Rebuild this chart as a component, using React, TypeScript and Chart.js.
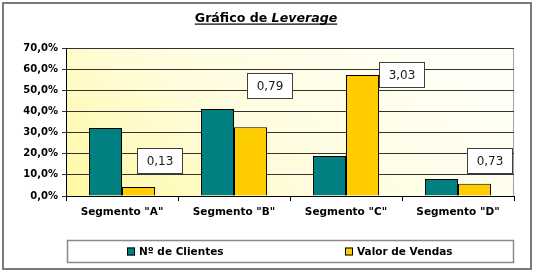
import React, { useEffect, useRef } from "react";
import { Chart, registerables } from "chart.js";

Chart.register(...registerables);

const categories = ['Segmento "A"', 'Segmento "B"', 'Segmento "C"', 'Segmento "D"'];
const clientes = [32.2, 41.2, 18.9, 8.0];
const vendas = [4.2, 32.5, 57.2, 5.8];
const ratioLabels = ["0,13", "0,79", "3,03", "0,73"];
const yTicks = [0, 10, 20, 30, 40, 50, 60, 70];
const seriesNames = ["Nº de Clientes", "Valor de Vendas"];

const FONT = "'DejaVu Sans', Verdana, sans-serif";

const decorPlugin = {
  id: "decor",
  beforeDraw(chart: any) {
    const { ctx, chartArea: a } = chart;
    ctx.save();
    ctx.fillStyle = "#ffffff";
    ctx.fillRect(0, 0, chart.width, chart.height);
    const g = ctx.createLinearGradient(a.left, a.bottom, a.left + 220, a.top - 120);
    g.addColorStop(0, "#fff9a2");
    g.addColorStop(0.45, "#fffcdc");
    g.addColorStop(1, "#fffff6");
    ctx.fillStyle = g;
    ctx.fillRect(a.left, a.top, a.right - a.left, a.bottom - a.top);
    ctx.strokeStyle = "#a0a0a0";
    ctx.lineWidth = 1;
    ctx.strokeRect(a.left + 0.5, a.top + 0.5, a.right - a.left - 1, a.bottom - a.top);
    ctx.restore();
  },
  afterDraw(chart: any, _args: any, opts: any) {
    const { ctx, chartArea: a } = chart;
    const xs = chart.scales.x;
    const ys = chart.scales.y;
    ctx.save();
    // outer border
    ctx.strokeStyle = "#7a7a7a";
    ctx.lineWidth = 2;
    ctx.strokeRect(3, 3, chart.width - 6, chart.height - 5);

    // title
    ctx.fillStyle = "#000";
    ctx.textBaseline = "alphabetic";
    const fs = 12.6;
    const p1 = "Gráfico de ";
    ctx.font = `bold ${fs}px ${FONT}`;
    const w1 = ctx.measureText(p1).width;
    ctx.font = `italic bold ${fs}px ${FONT}`;
    const w2 = ctx.measureText("Leverage").width;
    const tx = 266 - (w1 + w2) / 2;
    const ty = 21.5;
    ctx.font = `bold ${fs}px ${FONT}`;
    ctx.textAlign = "left";
    ctx.fillText(p1, tx, ty);
    ctx.font = `italic bold ${fs}px ${FONT}`;
    ctx.fillText("Leverage", tx + w1, ty);
    ctx.fillRect(tx, 23.5, w1 + w2, 1.2);

    // ratio boxes
    const boxes = opts.boxes || [];
    ctx.font = `12px ${FONT}`;
    ctx.textAlign = "center";
    ctx.textBaseline = "middle";
    boxes.forEach((b: any, i: number) => {
      const cx = Math.round(xs.getPixelForValue(i) + b.dx);
      const cy = Math.round(ys.getPixelForValue(b.y));
      const bw = 46, bh = 26;
      ctx.fillStyle = "#ffffff";
      ctx.fillRect(cx - bw / 2, cy - bh / 2, bw, bh);
      ctx.strokeStyle = "#404040";
      ctx.lineWidth = 1;
      ctx.strokeRect(cx - bw / 2 + 0.5, cy - bh / 2 + 0.5, bw - 1, bh - 1);
      ctx.fillStyle = "#1a1a1a";
      ctx.fillText(ratioLabels[i], cx, cy + 1);
    });

    // legend box
    const lx = a.left + 1, ly = 240, lw = a.right - a.left - 1, lh = 23;
    ctx.fillStyle = "#ffffff";
    ctx.fillRect(lx, ly, lw, lh);
    ctx.strokeStyle = "#8a8a8a";
    ctx.lineWidth = 1.5;
    ctx.strokeRect(lx + 0.5, ly + 0.5, lw - 1, lh - 1);
    ctx.font = `bold 10.5px ${FONT}`;
    ctx.textAlign = "left";
    ctx.textBaseline = "middle";
    chart.data.datasets.forEach((ds: any, i: number) => {
      const centre = lx + lw * (i === 0 ? 0.25 : 0.75);
      const tw = ctx.measureText(ds.label).width;
      const total = 8 + 4 + tw;
      const sx = Math.round(centre - total / 2) - 3;
      const sy = ly + lh / 2;
      ctx.fillStyle = ds.backgroundColor;
      ctx.fillRect(sx, sy - 4, 8, 8);
      ctx.strokeStyle = "#000";
      ctx.lineWidth = 1;
      ctx.strokeRect(sx + 0.5, sy - 3.5, 7, 7);
      ctx.fillStyle = "#000";
      ctx.fillText(ds.label, sx + 12, sy + 1);
    });
    ctx.restore();
  },
};

export default function App() {
  const ref = useRef<HTMLCanvasElement | null>(null);
  useEffect(() => {
    document.body.style.margin = "0";
    const canvas = ref.current!;
    const chart = new Chart(canvas, {
      type: "bar",
      data: {
        labels: categories,
        datasets: [
          {
            label: seriesNames[0],
            data: clientes,
            backgroundColor: "#008080",
            borderColor: "#000000",
            borderWidth: 1,
            categoryPercentage: 0.59,
            barPercentage: 1,
          },
          {
            label: seriesNames[1],
            data: vendas,
            backgroundColor: "#ffcc00",
            borderColor: "#000000",
            borderWidth: 1,
            categoryPercentage: 0.59,
            barPercentage: 1,
          },
        ],
      },
      plugins: [decorPlugin],
      options: {
        responsive: false,
        animation: false,
        layout: { padding: { left: 3, right: 20, top: 48, bottom: 45 } },
        plugins: {
          legend: { display: false },
          title: { display: false },
          tooltip: { enabled: false },
          decor: {
            boxes: [
              { dx: 38, y: 16.7 },
              { dx: 36, y: 52.0 },
              { dx: 56, y: 57.3 },
              { dx: 32, y: 16.7 },
            ],
          },
        } as any,
        scales: {
          x: {
            grid: {
              offset: true,
              drawOnChartArea: false,
              drawTicks: true,
              tickLength: 5,
              color: "#000",
            },
            border: { color: "#000", width: 1 },
            ticks: {
              color: "#000",
              font: { family: FONT, size: 10.5, weight: "bold" },
              padding: 5,
              maxRotation: 0,
              autoSkip: false,
            },
            afterFit: (s: any) => {
              s.height = 30;
            },
          },
          y: {
            min: 0,
            max: 70,
            afterBuildTicks: (s: any) => {
              s.ticks = yTicks.map((v) => ({ value: v }));
            },
            grid: {
              color: "#333",
              lineWidth: 1,
              tickLength: 4,
            },
            border: { color: "#000", width: 1 },
            ticks: {
              color: "#000",
              font: { family: FONT, size: 10, weight: "bold" },
              padding: 4,
              callback: (v: any) => Number(v).toFixed(1).replace(".", ",") + "%",
            },
            afterFit: (s: any) => {
              s.width = 63;
            },
          },
        },
      },
    });
    return () => chart.destroy();
  }, []);
  return <canvas ref={ref} width={534} height={271} style={{ display: "block" }} />;
}
